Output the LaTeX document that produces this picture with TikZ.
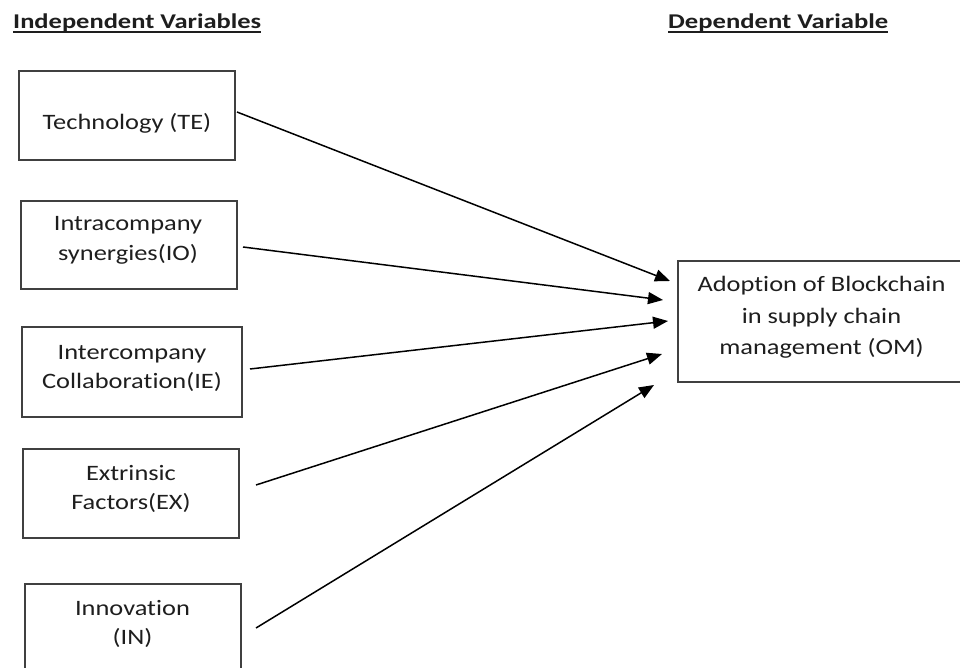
\documentclass[tikz,border=0pt]{standalone}
\usepackage{fontspec}
\setmainfont{Carlito}[Ligatures={NoCommon}]
\usepackage{graphicx}
\usetikzlibrary{arrows.meta}
\definecolor{boxgray}{HTML}{404040}
\definecolor{textgray}{HTML}{1E1E1E}
\newcommand\btxt[1]{\scalebox{1.2}[1]{\begin{tabular}[t]{@{}c@{}}#1\end{tabular}}}
\begin{document}
\begin{tikzpicture}[x=1pt,y=-1pt,
  box/.style={draw=boxgray, line width=1.2pt, inner sep=0pt},
  btext/.style={anchor=base, inner sep=0pt, text=textgray, font=\fontsize{22}{29}\selectfont},
  head/.style={anchor=base west, inner sep=0pt, text=textgray, font=\bfseries\fontsize{21}{24}\selectfont},
  uline/.style={line width=1.6pt, draw=textgray},
  arr/.style={line width=1.5pt, draw=black, -{Triangle[length=15pt,width=12pt]}}]
\useasboundingbox (0,0) rectangle (960,668);
\clip (0,0) rectangle (960,668);

% headers
\node[head] (h1) at (13,28.5) {\resizebox{248pt}{\height}{Independent Variables}};
\node[head] (h2) at (668,28.5) {\resizebox{220pt}{\height}{Dependent Variable}};
\draw[uline] ([yshift=-3.5pt]h1.base west) -- ([yshift=-3.5pt]h1.base east);
\draw[uline] ([yshift=-3.5pt]h2.base west) -- ([yshift=-3.5pt]h2.base east);

% boxes
\node[box, minimum width=216pt, minimum height=89pt] (te) at (127,115.5) {};
\node[box, minimum width=216pt, minimum height=88pt] (io) at (129,245) {};
\node[box, minimum width=220pt, minimum height=90pt] (ie) at (132,372) {};
\node[box, minimum width=216pt, minimum height=89pt] (ex) at (131,493.5) {};
\node[box, minimum width=216pt, minimum height=89pt] (in) at (133,628.5) {};
\node[box, minimum width=287pt, minimum height=121pt] (om) at (821.5,321.5) {};

% texts
\node[btext] (te-t) at (127,130) {\btxt{Technology (TE)}};
\node[btext] (io-t) at (128,231) {\btxt{Intracompany\\synergies(IO)}};
\node[btext] (ie-t) at (132,359) {\btxt{Intercompany\\Collaboration(IE)}};
\node[btext] (ex-t) at (131,480) {\btxt{Extrinsic\\Factors(EX)}};
\node[btext] (in-t) at (132.5,615) {\btxt{Innovation\\(IN)}};
\node[btext, font=\fontsize{22}{31.5}\selectfont] (om-t) at (821.5,291.7) {\btxt{Adoption of Blockchain\\in supply chain\\management (OM)}};

% arrow end points
\coordinate (te-s) at (237,112);   \coordinate (te-e) at (670,281);
\coordinate (io-s) at (243,247);   \coordinate (io-e) at (663,300);
\coordinate (ie-s) at (250,369);   \coordinate (ie-e) at (668,321);
\coordinate (ex-s) at (256,485);   \coordinate (ex-e) at (662,354);
\coordinate (in-s) at (256,628);   \coordinate (in-e) at (654,385);

\draw[arr] (te-s) -- (te-e);
\draw[arr] (io-s) -- (io-e);
\draw[arr] (ie-s) -- (ie-e);
\draw[arr] (ex-s) -- (ex-e);
\draw[arr] (in-s) -- (in-e);
\end{tikzpicture}
\end{document}
